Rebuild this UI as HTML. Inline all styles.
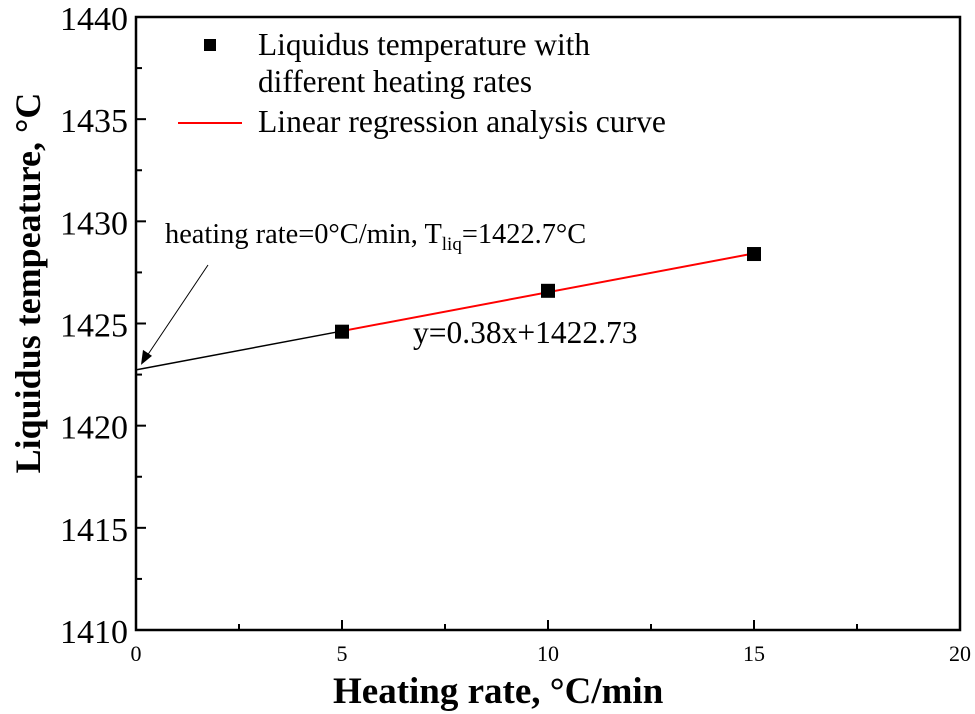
<!DOCTYPE html>
<html><head><meta charset="utf-8"><style>
body{margin:0;background:#fff}
svg{display:block;font-family:"Liberation Serif",serif}
</style></head><body>
<svg id="c" width="975" height="714"></svg>
<script>
const xs=[5,10,15];
const ys=[1424.6,1426.6,1428.4];
const slope=0.38, intercept=1422.73;
const xTicks=[0,5,10,15,20];
const yTicks=[1410,1415,1420,1425,1430,1435,1440];
const L=136,R=960,T=17,B=630;
const X=v=>L+(v-0)/20*(R-L);
const Y=v=>B-(v-1410)/30*(B-T);
const svg=document.getElementById('c');
const NS='http://www.w3.org/2000/svg';
function mk(tag,attrs,parent,txt){const e=document.createElementNS(NS,tag);for(const k in attrs)e.setAttribute(k,attrs[k]);if(txt!==undefined)e.textContent=txt;(parent||svg).appendChild(e);return e;}
const frame=mk('rect',{x:L,y:T,width:R-L,height:B-T,fill:'none',stroke:'#000','stroke-width':2.5});


xTicks.forEach(t=>{
 const tk=mk('line',{x1:X(t),x2:X(t),y1:B,y2:B-10,stroke:'#000','stroke-width':2});
 
 
 const lb=mk('text',{x:X(t),y:B+31,'text-anchor':'middle','font-size':22},svg,t);
 
 
});
for(let i=0;i<4;i++){const v=2.5+5*i;const m=mk('line',{x1:X(v),x2:X(v),y1:B,y2:B-6,stroke:'#000','stroke-width':2});
 
 }
yTicks.forEach(t=>{
 const tk=mk('line',{x1:L,x2:L+10,y1:Y(t),y2:Y(t),stroke:'#000','stroke-width':2});
 
 
 const lb=mk('text',{x:L-8,y:Y(t)+13,'text-anchor':'end','font-size':34},svg,t);
 
 
});
for(let i=0;i<6;i++){const v=1412.5+5*i;const m=mk('line',{x1:L,x2:L+6,y1:Y(v),y2:Y(v),stroke:'#000','stroke-width':2});
 
 }
const ext=mk('line',{x1:X(0),y1:Y(intercept),x2:X(xs[0]),y2:Y(slope*xs[0]+intercept),stroke:'#000','stroke-width':1.5});


const fit=mk('line',{x1:X(xs[0]),y1:Y(slope*xs[0]+intercept),x2:X(xs[2]),y2:Y(slope*xs[2]+intercept),stroke:'#f00','stroke-width':2});


xs.forEach((x,i)=>{const p=mk('rect',{x:X(x)-7,y:Y(ys[i])-7,width:14,height:14,fill:'#000'});
 
 });
// legend
const l1=mk('rect',{x:204,y:39,width:12,height:12,fill:'#000'});


const t1=mk('text',{x:258,y:55,'font-size':31.3},svg,'Liquidus temperature with');


const t1b=mk('text',{x:258,y:92,'font-size':31.3},svg,'different heating rates');


const l2=mk('line',{x1:178,x2:242,y1:123,y2:123,stroke:'#f00','stroke-width':2});


const t2=mk('text',{x:258,y:132,'font-size':31.6},svg,'Linear regression analysis curve');


// annotations
const a=mk('text',{x:165,y:243,'font-size':28.4},svg);


a.innerHTML='heating rate=0°C/min, T<tspan font-size="19" dy="7">liq</tspan><tspan dy="-7">=1422.7°C</tspan>';
const arr=mk('line',{x1:208,y1:265,x2:143,y2:Y(intercept)-8,stroke:'#000','stroke-width':1});


const ah=mk('polygon',{points:`${141},${Y(intercept)-5} ${143},${Y(intercept)-20} ${152},${Y(intercept)-14}`,fill:'#000'});


const eq=mk('text',{x:413,y:343,'font-size':31.5},svg,'y=0.38x+1422.73');


const xt=mk('text',{x:333,y:703,'font-size':37,'font-weight':'bold'},svg,'Heating rate, °C/min');


const yt=mk('text',{x:0,y:0,'text-anchor':'middle','font-size':36,'font-weight':'bold',transform:`translate(40,283) rotate(-90)`},svg,'Liquidus tempeature, °C');


</script>
</body></html>
